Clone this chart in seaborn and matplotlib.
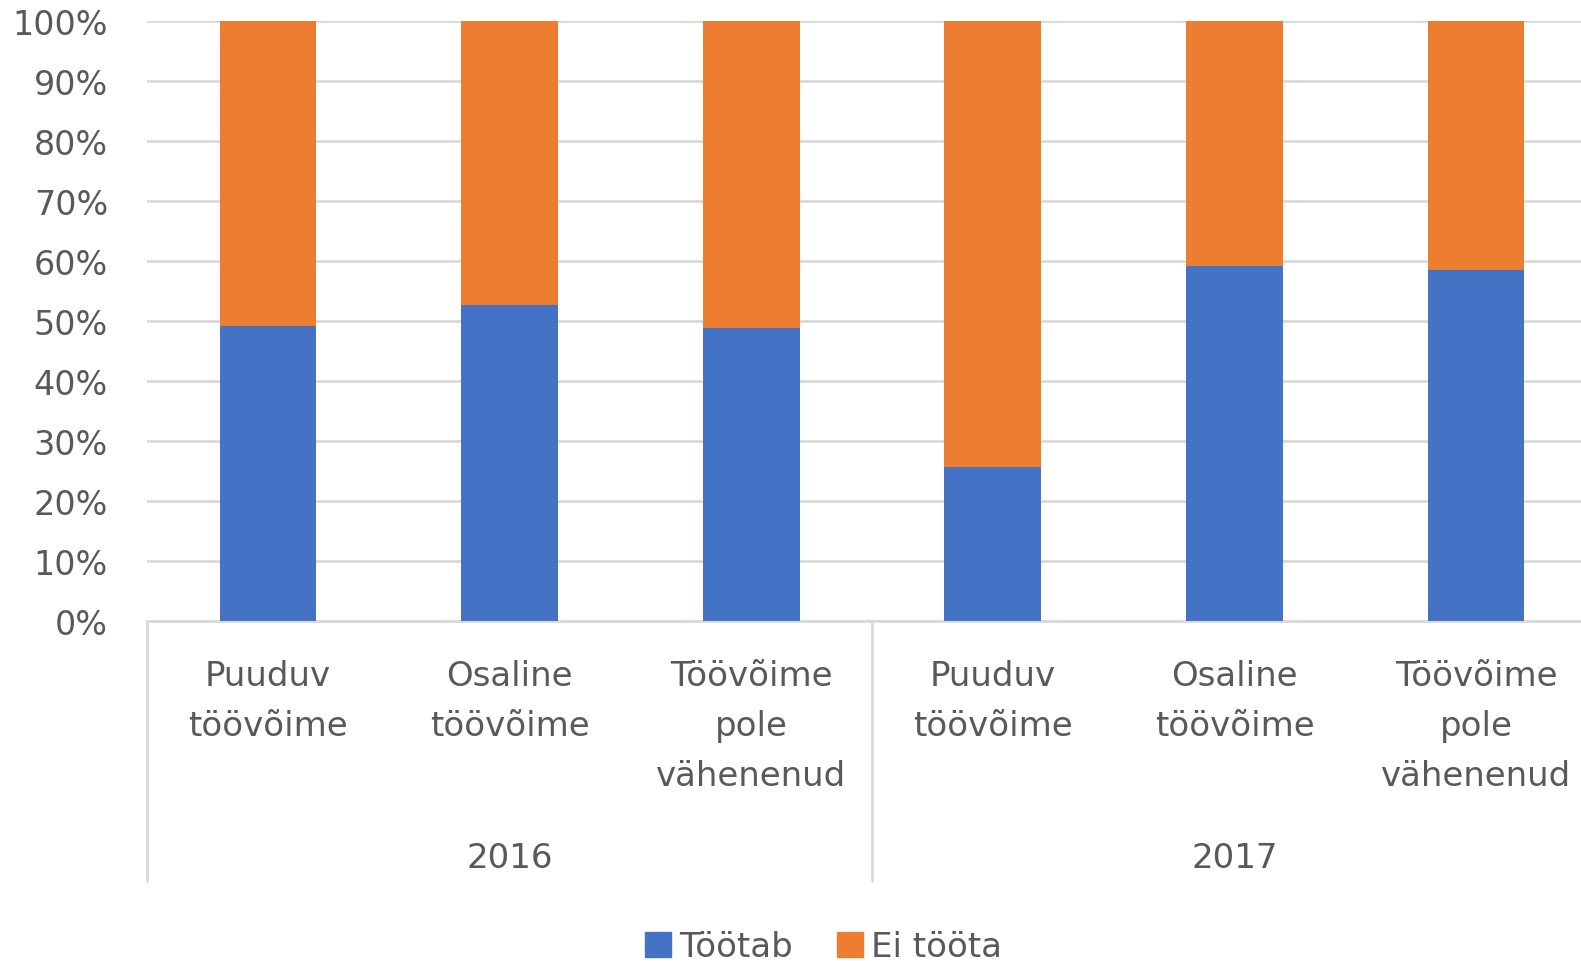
import pandas as pd
import matplotlib.pyplot as plt
import matplotlib.ticker as mtick
from matplotlib.patches import Patch
import seaborn as sns

# values (percent)
categories = ["Puuduv\ntöövõime", "Osaline\ntöövõime", "Töövõime\npole\nvähenenud"]
years = ["2016", "2017"]
tootab = [49.2, 52.6, 48.8, 25.6, 59.2, 58.5]
ei_toota = [50.8, 47.4, 51.2, 74.4, 40.8, 41.5]
yticks = [0, 10, 20, 30, 40, 50, 60, 70, 80, 90, 100]

BLUE = "#4472C4"
ORANGE = "#ED7D31"
GREY_TXT = "#595959"
GRID = "#D9D9D9"

rows = []
for i, y in enumerate(years):
    for j, c in enumerate(categories):
        k = i * len(categories) + j
        rows.append({"slot": k, "year": y, "cat": c,
                     "tootab": tootab[k], "ei": ei_toota[k]})
df = pd.DataFrame(rows)
df["total"] = df["tootab"] + df["ei"]

sns.set_theme(style="white")
plt.rcParams["font.family"] = ["DejaVu Sans"]

fig = plt.figure(figsize=(15.81, 9.62), dpi=100)
# plot area runs past the right edge of the picture, like the original
ax = fig.add_axes([147 / 1581, (962 - 622) / 962, 1450 / 1581, 600 / 962])

# stacked: full total (orange) first, blue on top
sns.barplot(data=df, x="slot", y="total", color=ORANGE, width=0.40,
            saturation=1, ax=ax, zorder=2, linewidth=0)
sns.barplot(data=df, x="slot", y="tootab", color=BLUE, width=0.40,
            saturation=1, ax=ax, zorder=3, linewidth=0)

ax.set_ylim(0, 100)
ax.set_xlim(-0.5, 5.5)
ax.set_yticks(yticks)
ax.yaxis.set_major_formatter(mtick.PercentFormatter(decimals=0))
ax.tick_params(axis="y", labelsize=24, colors=GREY_TXT, length=0, pad=28)
ax.set_xticks([])
ax.set_xlabel("")
ax.set_ylabel("")
ax.grid(axis="y", color=GRID, linewidth=2, zorder=0)
ax.set_axisbelow(True)
for s in ["left", "right", "top"]:
    ax.spines[s].set_visible(False)
ax.spines["bottom"].set_color(GRID)
ax.spines["bottom"].set_linewidth(2)

trans = ax.get_xaxis_transform()
# category labels
for _, r in df.iterrows():
    ax.text(r["slot"], -0.063, r["cat"], transform=trans, ha="center", va="top",
            fontsize=24.5, color=GREY_TXT, linespacing=1.66)
# year labels and separators
for i, y in enumerate(years):
    ax.text(i * 3 + 1, -0.394, y, transform=trans, ha="center", va="center",
            fontsize=24.5, color=GREY_TXT)
for xs in [-0.5, 2.5, 5.5]:
    ax.plot([xs, xs], [0, -0.433], transform=trans, color=GRID, linewidth=2,
            clip_on=False)

handles = [Patch(color=BLUE, label="Töötab"), Patch(color=ORANGE, label="Ei tööta")]
fig.legend(handles=handles, loc="center", bbox_to_anchor=(0.521, 1 - 948 / 962),
           ncol=2, frameon=False, fontsize=24.5, labelcolor=GREY_TXT,
           handlelength=0.75, handleheight=0.75, handletextpad=0.25, columnspacing=1.3)

fig.savefig("out.png", dpi=100)
